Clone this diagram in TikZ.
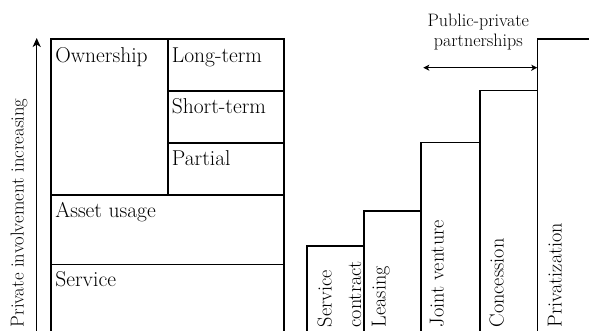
\documentclass[tikz,border=0pt]{standalone}
\usetikzlibrary{arrows.meta}
\begin{document}
\begin{tikzpicture}[x=1pt,y=-1pt,
  frame/.style={draw, line width=1.6pt, rectangle, inner sep=0pt, outer sep=0pt, anchor=north west},
  boxlabel/.style={anchor=base west, inner sep=0pt, font=\fontsize{21.5}{24}\selectfont},
  steplabel/.style={rotate=90, anchor=base west, inner sep=0pt, font=\fontsize{20.2}{24}\selectfont},
  axislabel/.style={rotate=90, anchor=base west, inner sep=0pt, font=\fontsize{18.7}{22}\selectfont},
  toplabel/.style={anchor=base, inner sep=0pt, font=\fontsize{18}{20}\selectfont},
  link/.style={line width=1.5pt},
]
\useasboundingbox (0,0) rectangle (589,331);
\clip (0,0) rectangle (589,331);

% forms of private involvement (left block)
\node[frame, minimum width=117pt,   minimum height=155.7pt] (own)   at (50.7,39.3)  {};
\node[frame, minimum width=116.3pt, minimum height=51.7pt]  (long)  at (167.7,39.3) {};
\node[frame, minimum width=116.3pt, minimum height=52.3pt]  (short) at (167.7,91)   {};
\node[frame, minimum width=116.3pt, minimum height=51.7pt]  (part)  at (167.7,143.3) {};
\node[frame, minimum width=233.3pt, minimum height=69.3pt]  (asset) at (50.7,195)   {};
\node[frame, minimum width=233.3pt, minimum height=90pt]    (serv)  at (50.7,264.3) {};

\node[boxlabel] (ownT)   at ([xshift=4.5pt,yshift=-22.8pt]own.north west)   {Ownership};
\node[boxlabel] (longT)  at ([xshift=4pt,yshift=-22.8pt]long.north west)   {Long-term};
\node[boxlabel] (shortT) at ([xshift=4pt,yshift=-22.5pt]short.north west)  {Short-term};
\node[boxlabel] (partT)  at ([xshift=4pt,yshift=-22.5pt]part.north west)   {Partial};
\node[boxlabel] (assetT) at ([xshift=4.5pt,yshift=-22.5pt]asset.north west) {Asset usage};
\node[boxlabel] (servT)  at ([xshift=4.5pt,yshift=-22pt]serv.north west)   {Service};

% axis of increasing private involvement
\coordinate (axB) at (36.7,333);
\coordinate (axT) at (36.7,38);
\draw[link, -{Stealth[length=9pt,width=8pt,inset=2.5pt]}] (axB) -- (axT);
\node[axislabel] (axT2) at (23.5,327.5) {Private involvement increasing};

% staircase of contract types
\node[frame, minimum width=57.3pt, minimum height=100pt] (s1) at (306.7,246)   {};
\node[frame, minimum width=57pt,   minimum height=130pt] (s2) at (364,211)     {};
\node[frame, minimum width=59pt,   minimum height=200pt] (s3) at (421,142.7)   {};
\node[frame, minimum width=57.3pt, minimum height=250pt] (s4) at (480,90.7)    {};
\node[frame, minimum width=60pt,   minimum height=300pt] (s5) at (537.3,39.3)  {};

\node[steplabel] (t1a) at (331.5,327.5) {Service};
\node[steplabel] (t1b) at (361,327.5)   {contract};
\node[steplabel] (t2)  at (385.7,327.5) {Leasing};
\node[steplabel] (t3)  at (443.5,327.5) {Joint venture};
\node[steplabel] (t4)  at (503.5,327.5) {Concession};
\node[steplabel] (t5)  at (561.7,327.5) {Privatization};

% span of public-private partnerships
\node[toplabel] (ppA) at (478.3,27) {Public-private};
\node[toplabel] (ppB) at (478.3,47) {partnerships};
\coordinate (ppL) at (423.3,67.7);
\draw[line width=1.2pt, {Stealth[length=6pt,width=6pt,inset=1.5pt]}-{Stealth[length=6pt,width=6pt,inset=1.5pt]}] (ppL) -- (ppL -| s5.west);
\end{tikzpicture}
\end{document}
